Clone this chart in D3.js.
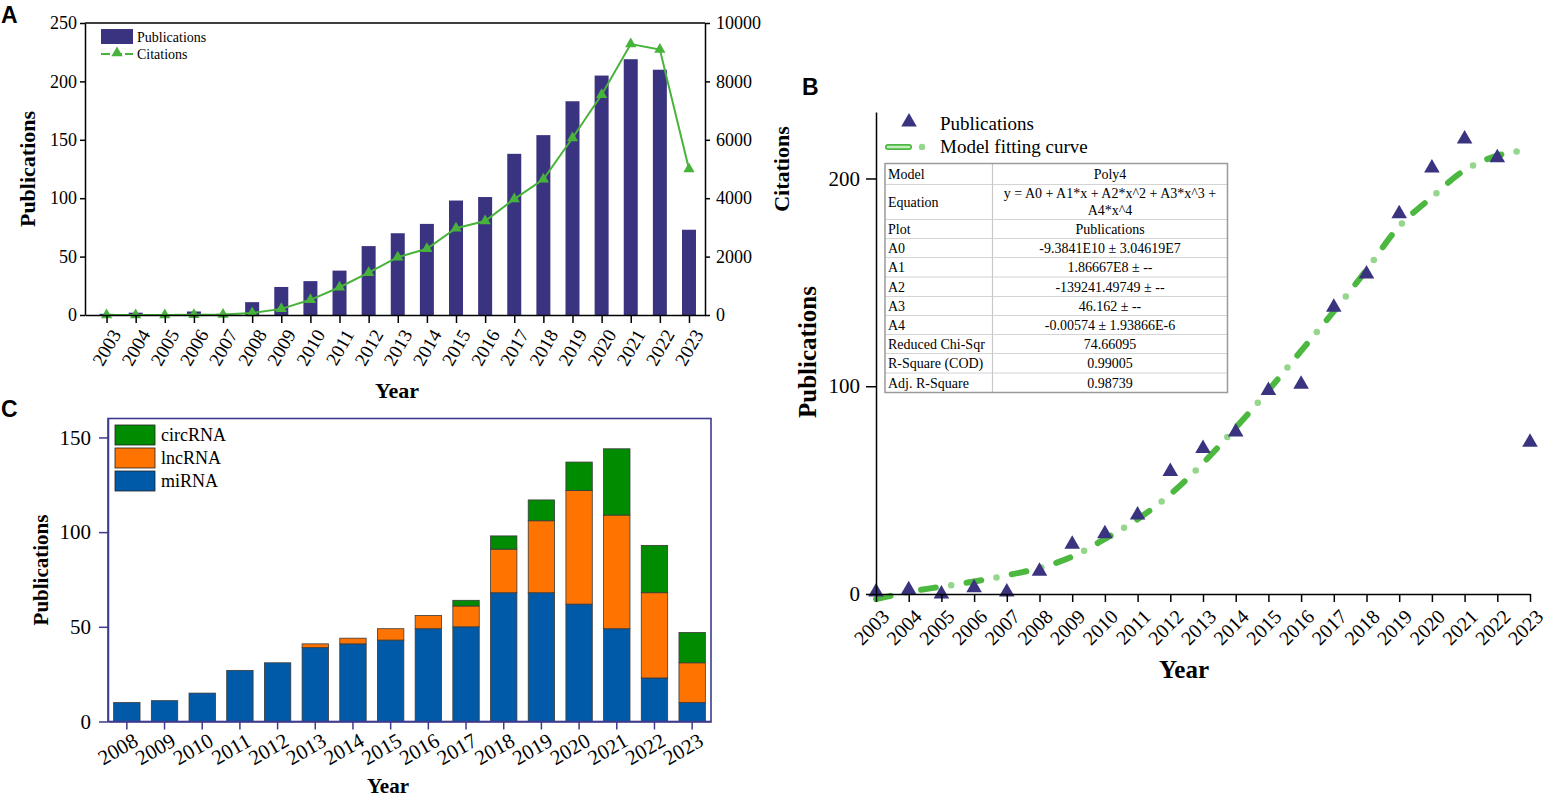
<!DOCTYPE html>
<html>
<head>
<meta charset="utf-8">
<script src="https://cdn.jsdelivr.net/npm/d3@7"></script>
<style>
  body { margin: 0; background: #fff; }
  svg { display: block; }
  text { font-family: "Liberation Serif", "Times New Roman", serif; fill: #000; }
  .panel-letter { font-family: "Liberation Sans", Arial, sans-serif; font-weight: bold; font-size: 23px; }
  .axis-title { font-weight: bold; }
</style>
</head>
<body>
<svg id="fig" width="1550" height="804"></svg>
<script>
// ---- data: panel A (publications + citations per year)
const years = [2003, 2004, 2005, 2006, 2007, 2008, 2009, 2010, 2011, 2012, 2013,
               2014, 2015, 2016, 2017, 2018, 2019, 2020, 2021, 2022, 2023];
const publications = [1, 2, 0, 3, 1, 11, 24, 29, 38, 59, 70, 78, 98, 101, 138, 154, 183, 205, 219, 210, 73];
const citations = [0, 0, 0, 10, 20, 70, 210, 520, 950, 1450, 1980, 2270, 2970, 3220, 3970, 4650, 6060, 7540, 9280, 9090, 5000];
const pubTicks = [0, 50, 100, 150, 200, 250];
const citeTicks = [0, 2000, 4000, 6000, 8000, 10000];

// ---- data: panel B (polynomial fit)
const fitValues = [-2.5, 1, 3.5, 6, 9, 12.5, 18, 26.5, 36, 48, 63, 80, 98, 117, 136, 156, 177, 191, 204, 211, 214];
const fitTicks = [0, 100, 200];
const fitTable = [
  ["Model", "Poly4"],
  ["Equation", "y = A0 + A1*x + A2*x^2 + A3*x^3 +|A4*x^4"],
  ["Plot", "Publications"],
  ["A0", "-9.3841E10 \u00b1 3.04619E7"],
  ["A1", "1.86667E8 \u00b1 --"],
  ["A2", "-139241.49749 \u00b1 --"],
  ["A3", "46.162 \u00b1 --"],
  ["A4", "-0.00574 \u00b1 1.93866E-6"],
  ["Reduced Chi-Sqr", "74.66095"],
  ["R-Square (COD)", "0.99005"],
  ["Adj. R-Square", "0.98739"]
];

// ---- data: panel C (stacked by RNA type)
const rnaYears = [2008, 2009, 2010, 2011, 2012, 2013, 2014, 2015, 2016, 2017, 2018, 2019, 2020, 2021, 2022, 2023];
const miRNA = [10, 11, 15, 27, 31, 39, 41, 43, 49, 50, 68, 68, 62, 49, 23, 10];
const lncRNA = [0, 0, 0, 0, 0, 2, 3, 6, 7, 11, 23, 38, 60, 60, 45, 21];
const circRNA = [0, 0, 0, 0, 0, 0, 0, 0, 0, 3, 7, 11, 15, 35, 25, 16];
const rnaKeys = ["miRNA", "lncRNA", "circRNA"];
const rnaTicks = [0, 50, 100, 150];

// colours
const barBlue = "#3a3480";
const lineGreen = "#48b33a";
const rnaColor = { miRNA: "#005aa8", lncRNA: "#ff7400", circRNA: "#008c00" };
const boxPurple = "#3e3a8e";

const svg = d3.select("#fig");
svg.append("rect").attr("width", 1550).attr("height", 804).attr("fill", "#fff");

// helper to style an axis group
function styleAxis(g, size, color = "#000") {
  g.selectAll("path, line").attr("stroke", color).attr("stroke-width", 1.5);
  g.selectAll("text").style("font-size", size + "px").attr("fill", "#000")
    .style("font-family", '"Liberation Serif", "Times New Roman", serif');
}

// ================= Panel A =================
const A = svg.append("g");
const ax = d3.scaleLinear().domain([2002.26, 2023.55]).range([85, 705]);
const ayL = d3.scaleLinear().domain([0, 250]).range([315, 23]);
const ayR = d3.scaleLinear().domain([0, 10000]).range([315, 23]);

// bars
A.selectAll(".pubbar")
  .data(years.map((y, i) => ({ year: y, v: publications[i] })))
  .join("rect")
  .attr("class", "pubbar")
  .attr("x", d => ax(d.year) - 7)
  .attr("width", 14)
  .attr("y", d => ayL(d.v))
  .attr("height", d => ayL(0) - ayL(d.v))
  .attr("fill", barBlue);

// citation line
const citeData = years.map((y, i) => ({ year: y, v: citations[i] }));
A.append("path")
  .datum(citeData)
  .attr("fill", "none")
  .attr("stroke", lineGreen)
  .attr("stroke-width", 2)
  .attr("d", d3.line().x(d => ax(d.year)).y(d => ayR(d.v)));

A.selectAll(".citemark")
  .data(citeData)
  .join("path")
  .attr("class", "citemark")
  .attr("transform", d => `translate(${ax(d.year)},${ayR(d.v)})`)
  .attr("d", d3.symbol(d3.symbolTriangle, 55))
  .attr("fill", lineGreen);

// axes
const aLeft = A.append("g").attr("transform", "translate(85,0)")
  .call(d3.axisLeft(ayL).tickValues(pubTicks).tickSize(5).tickSizeOuter(0).tickPadding(3));
styleAxis(aLeft, 18);
const aRight = A.append("g").attr("transform", "translate(705,0)")
  .call(d3.axisRight(ayR).tickValues(citeTicks).tickFormat(d3.format("d")).tickSize(5).tickSizeOuter(0).tickPadding(6));
styleAxis(aRight, 18);
const aBottom = A.append("g").attr("transform", "translate(0,315)")
  .call(d3.axisBottom(ax).tickValues(years).tickFormat(d3.format("d")).tickSize(8).tickSizeOuter(0));
styleAxis(aBottom, 19);
aBottom.selectAll("text")
  .attr("text-anchor", "end")
  .attr("transform", "translate(9,16) rotate(-60)")
  .attr("x", 0).attr("y", 0).attr("dy", "0.35em");
// top border
A.append("line").attr("x1", 85).attr("x2", 705).attr("y1", 23).attr("y2", 23)
  .attr("stroke", "#000").attr("stroke-width", 1.5);

// legend
A.append("rect").attr("x", 101).attr("y", 29).attr("width", 32).attr("height", 15).attr("fill", barBlue);
A.append("text").attr("x", 137).attr("y", 42).style("font-size", "14px").text("Publications");
A.append("line").attr("x1", 101).attr("x2", 133).attr("y1", 54).attr("y2", 54)
  .attr("stroke", lineGreen).attr("stroke-width", 2).attr("stroke-dasharray", "9 3");
A.append("path").attr("transform", "translate(117,53)")
  .attr("d", d3.symbol(d3.symbolTriangle, 55)).attr("fill", lineGreen);
A.append("text").attr("x", 137).attr("y", 59).style("font-size", "14px").text("Citations");

// titles
A.append("text").attr("class", "axis-title")
  .attr("transform", "translate(35,169) rotate(-90)")
  .attr("text-anchor", "middle").style("font-size", "22px").text("Publications");
A.append("text").attr("class", "axis-title")
  .attr("transform", "translate(789,169) rotate(-90)")
  .attr("text-anchor", "middle").style("font-size", "22px").text("Citations");
A.append("text").attr("class", "axis-title")
  .attr("x", 397).attr("y", 398)
  .attr("text-anchor", "middle").style("font-size", "22px").text("Year");
A.append("text").attr("class", "panel-letter").attr("x", 1).attr("y", 23).text("A");

// ================= Panel B =================
const B = svg.append("g");
const bx = d3.scaleLinear().domain([2003, 2023]).range([876, 1530]);
const by = d3.scaleLinear().domain([0, 232]).range([594, 112]);

// fitted curve: green dashes with pale dots in the gaps
const fitData = years.map((y, i) => ({ year: y, v: fitValues[i] }));
const fitLine = d3.line().x(d => bx(d.year)).y(d => by(d.v)).curve(d3.curveCatmullRom);
B.append("path").datum(fitData)
  .attr("fill", "none").attr("stroke", "#4cb840").attr("stroke-width", 6)
  .attr("stroke-linecap", "round").attr("stroke-dasharray", "15 31")
  .attr("d", fitLine);
B.append("path").datum(fitData)
  .attr("fill", "none").attr("stroke", "#94d68c").attr("stroke-width", 6.5)
  .attr("stroke-linecap", "round").attr("stroke-dasharray", "0 46").attr("stroke-dashoffset", 15.5)
  .attr("d", fitLine);

// publication points
B.selectAll(".pubmark")
  .data(years.map((y, i) => ({ year: y, v: publications[i] })))
  .join("path")
  .attr("class", "pubmark")
  .attr("transform", d => `translate(${bx(d.year)},${by(d.v)})`)
  .attr("d", d3.symbol(d3.symbolTriangle, 105))
  .attr("fill", barBlue);

// axes
const bLeft = B.append("g").attr("transform", "translate(876,0)")
  .call(d3.axisLeft(by).tickValues(fitTicks).tickSize(10).tickSizeOuter(0).tickPadding(6));
styleAxis(bLeft, 21);
const bBottom = B.append("g").attr("transform", "translate(0,594)")
  .call(d3.axisBottom(bx).tickValues(years).tickFormat(d3.format("d")).tickSize(8).tickSizeOuter(0));
styleAxis(bBottom, 20);
bBottom.selectAll("text")
  .attr("text-anchor", "end")
  .attr("transform", "translate(9,19) rotate(-45)")
  .attr("x", 0).attr("y", 0).attr("dy", "0.35em");

// legend
B.append("path").attr("transform", "translate(909,122)")
  .attr("d", d3.symbol(d3.symbolTriangle, 105)).attr("fill", barBlue);
B.append("text").attr("x", 940).attr("y", 130).style("font-size", "19px").text("Publications");
B.append("line").attr("x1", 888).attr("x2", 909).attr("y1", 147).attr("y2", 147)
  .attr("stroke", "#4cb840").attr("stroke-width", 6).attr("stroke-linecap", "round");
B.append("line").attr("x1", 888).attr("x2", 909).attr("y1", 147).attr("y2", 147)
  .attr("stroke", "#c8ecc2").attr("stroke-width", 2.5).attr("stroke-linecap", "round");
B.append("circle").attr("cx", 922).attr("cy", 147).attr("r", 3.2).attr("fill", "#94d68c");
B.append("text").attr("x", 940).attr("y", 153).style("font-size", "19px").text("Model fitting curve");

// parameter table
const rowEdges = [163.5, 184.5, 219.5, 238.5, 257.5, 277, 296.5, 315.5, 334.5, 353.5, 373, 392.5];
const tx0 = 885, tx1 = 992.5, tx2 = 1227.5;
const table = B.append("g");
table.append("rect").attr("x", tx0).attr("y", rowEdges[0])
  .attr("width", tx2 - tx0).attr("height", rowEdges[rowEdges.length - 1] - rowEdges[0])
  .attr("fill", "#fff");
table.selectAll(".hline")
  .data(rowEdges.slice(1, -1))
  .join("line")
  .attr("x1", tx0).attr("x2", tx2).attr("y1", d => d).attr("y2", d => d)
  .attr("stroke", "#d4d4d4").attr("stroke-width", 1.2);
table.append("line").attr("x1", tx1).attr("x2", tx1)
  .attr("y1", rowEdges[0]).attr("y2", rowEdges[rowEdges.length - 1])
  .attr("stroke", "#c8c8c8").attr("stroke-width", 1.2);
table.append("rect").attr("x", tx0).attr("y", rowEdges[0])
  .attr("width", tx2 - tx0).attr("height", rowEdges[rowEdges.length - 1] - rowEdges[0])
  .attr("fill", "none").attr("stroke", "#9a9a9a").attr("stroke-width", 1.5);

fitTable.forEach((row, i) => {
  const mid = (rowEdges[i] + rowEdges[i + 1]) / 2;
  table.append("text").attr("x", tx0 + 3).attr("y", mid).attr("dy", "0.35em")
    .style("font-size", "14px").text(row[0]);
  const lines = row[1].split("|");
  lines.forEach((t, j) => {
    table.append("text").attr("x", (tx1 + tx2) / 2)
      .attr("y", mid + (j - (lines.length - 1) / 2) * 17).attr("dy", "0.35em")
      .attr("text-anchor", "middle").style("font-size", "14px").text(t);
  });
});

// titles
B.append("text").attr("class", "axis-title")
  .attr("transform", "translate(816,352) rotate(-90)")
  .attr("text-anchor", "middle").style("font-size", "25px").text("Publications");
B.append("text").attr("class", "axis-title")
  .attr("x", 1184).attr("y", 678)
  .attr("text-anchor", "middle").style("font-size", "25px").text("Year");
B.append("text").attr("class", "panel-letter").attr("x", 802).attr("y", 95).text("B");

// ================= Panel C =================
const C = svg.append("g");
const cx = d3.scaleBand().domain(rnaYears).range([108, 711]).paddingInner(0.3).paddingOuter(0.15);
const cy = d3.scaleLinear().domain([0, 160]).range([721.5, 418.5]);

const rnaRows = rnaYears.map((y, i) => ({ year: y, miRNA: miRNA[i], lncRNA: lncRNA[i], circRNA: circRNA[i] }));
const stacked = d3.stack().keys(rnaKeys)(rnaRows);

C.selectAll(".layer")
  .data(stacked)
  .join("g")
  .attr("class", "layer")
  .attr("fill", d => rnaColor[d.key])
  .selectAll("rect")
  .data(d => d.filter(s => s[1] > s[0]))
  .join("rect")
  .attr("x", d => cx(d.data.year))
  .attr("width", cx.bandwidth())
  .attr("y", d => cy(d[1]))
  .attr("height", d => cy(d[0]) - cy(d[1]))
  .attr("stroke", "#3a3a3a")
  .attr("stroke-width", 0.8);

// axes
const cLeft = C.append("g").attr("transform", "translate(108,0)")
  .call(d3.axisLeft(cy).tickValues(rnaTicks).tickSize(9).tickSizeOuter(0).tickPadding(8));
styleAxis(cLeft, 21, boxPurple);
const cBottom = C.append("g").attr("transform", "translate(0,721.5)")
  .call(d3.axisBottom(cx).tickSize(8).tickSizeOuter(0));
styleAxis(cBottom, 21, boxPurple);
cBottom.selectAll("text")
  .attr("text-anchor", "end")
  .attr("transform", "translate(9,17) rotate(-30)")
  .attr("x", 0).attr("y", 0).attr("dy", "0.35em");
// frame
C.append("rect").attr("x", 108).attr("y", 418.5).attr("width", 603).attr("height", 303)
  .attr("fill", "none").attr("stroke", boxPurple).attr("stroke-width", 1.6);

// legend (top to bottom: circRNA, lncRNA, miRNA)
const legendOrder = rnaKeys.slice().reverse();
const cLegend = C.selectAll(".cleg")
  .data(legendOrder)
  .join("g")
  .attr("class", "cleg")
  .attr("transform", (d, i) => `translate(115,${425 + i * 23})`);
cLegend.append("rect").attr("width", 40).attr("height", 20)
  .attr("fill", d => rnaColor[d]).attr("stroke", "#222").attr("stroke-width", 0.8);
cLegend.append("text").attr("x", 46).attr("y", 10).attr("dy", "0.35em")
  .style("font-size", "18px").text(d => d);

// titles
C.append("text").attr("class", "axis-title")
  .attr("transform", "translate(48,570) rotate(-90)")
  .attr("text-anchor", "middle").style("font-size", "21px").text("Publications");
C.append("text").attr("class", "axis-title")
  .attr("x", 388).attr("y", 793)
  .attr("text-anchor", "middle").style("font-size", "21px").text("Year");
C.append("text").attr("class", "panel-letter").attr("x", 1).attr("y", 417).text("C");
</script>
</body>
</html>
